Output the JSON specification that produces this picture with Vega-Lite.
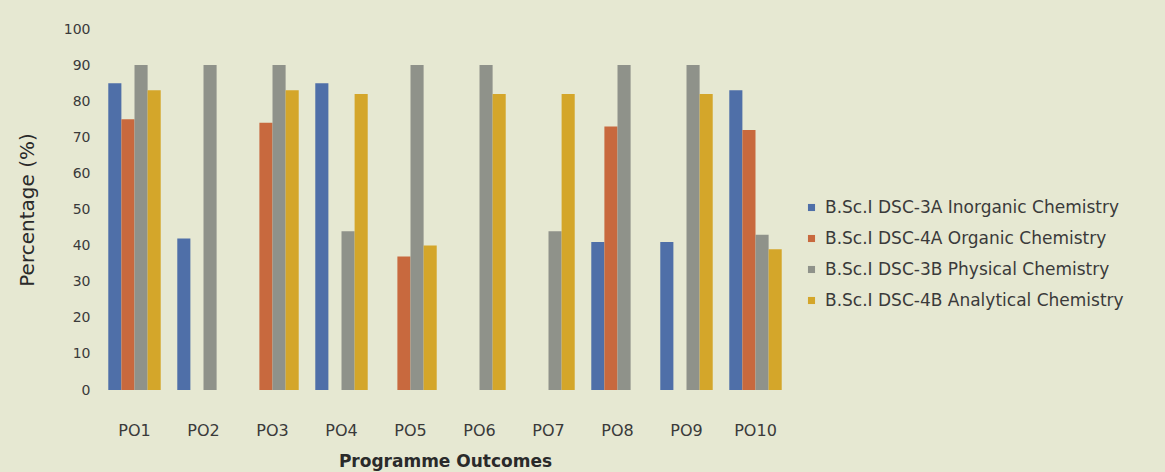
{
  "$schema": "https://vega.github.io/schema/vega-lite/v6.json",
  "width": 690,
  "height": 361,
  "autosize": {"type": "none"},
  "padding": {"left": 100, "top": 29, "right": 375, "bottom": 82},
  "background": "#e6e8d2",
  "config": {
    "font": "DejaVu Sans",
    "view": {"stroke": null},
    "axis": {"grid": false, "ticks": false, "domain": false, "labelColor": "#3a3a3a", "titleColor": "#2a2a2a", "labelFont": "DejaVu Sans", "titleFont": "DejaVu Sans"},
    "legend": {"labelFont": "DejaVu Sans"}
  },
  "data": {
    "values": [
      {"po": "PO1", "course": "B.Sc.I DSC-3A Inorganic Chemistry", "pct": 85},
      {"po": "PO1", "course": "B.Sc.I DSC-4A Organic Chemistry", "pct": 75},
      {"po": "PO1", "course": "B.Sc.I DSC-3B Physical Chemistry", "pct": 90},
      {"po": "PO1", "course": "B.Sc.I DSC-4B Analytical Chemistry", "pct": 83},
      {"po": "PO2", "course": "B.Sc.I DSC-3A Inorganic Chemistry", "pct": 42},
      {"po": "PO2", "course": "B.Sc.I DSC-3B Physical Chemistry", "pct": 90},
      {"po": "PO3", "course": "B.Sc.I DSC-4A Organic Chemistry", "pct": 74},
      {"po": "PO3", "course": "B.Sc.I DSC-3B Physical Chemistry", "pct": 90},
      {"po": "PO3", "course": "B.Sc.I DSC-4B Analytical Chemistry", "pct": 83},
      {"po": "PO4", "course": "B.Sc.I DSC-3A Inorganic Chemistry", "pct": 85},
      {"po": "PO4", "course": "B.Sc.I DSC-3B Physical Chemistry", "pct": 44},
      {"po": "PO4", "course": "B.Sc.I DSC-4B Analytical Chemistry", "pct": 82},
      {"po": "PO5", "course": "B.Sc.I DSC-4A Organic Chemistry", "pct": 37},
      {"po": "PO5", "course": "B.Sc.I DSC-3B Physical Chemistry", "pct": 90},
      {"po": "PO5", "course": "B.Sc.I DSC-4B Analytical Chemistry", "pct": 40},
      {"po": "PO6", "course": "B.Sc.I DSC-3B Physical Chemistry", "pct": 90},
      {"po": "PO6", "course": "B.Sc.I DSC-4B Analytical Chemistry", "pct": 82},
      {"po": "PO7", "course": "B.Sc.I DSC-3B Physical Chemistry", "pct": 44},
      {"po": "PO7", "course": "B.Sc.I DSC-4B Analytical Chemistry", "pct": 82},
      {"po": "PO8", "course": "B.Sc.I DSC-3A Inorganic Chemistry", "pct": 41},
      {"po": "PO8", "course": "B.Sc.I DSC-4A Organic Chemistry", "pct": 73},
      {"po": "PO8", "course": "B.Sc.I DSC-3B Physical Chemistry", "pct": 90},
      {"po": "PO9", "course": "B.Sc.I DSC-3A Inorganic Chemistry", "pct": 41},
      {"po": "PO9", "course": "B.Sc.I DSC-3B Physical Chemistry", "pct": 90},
      {"po": "PO9", "course": "B.Sc.I DSC-4B Analytical Chemistry", "pct": 82},
      {"po": "PO10", "course": "B.Sc.I DSC-3A Inorganic Chemistry", "pct": 83},
      {"po": "PO10", "course": "B.Sc.I DSC-4A Organic Chemistry", "pct": 72},
      {"po": "PO10", "course": "B.Sc.I DSC-3B Physical Chemistry", "pct": 43},
      {"po": "PO10", "course": "B.Sc.I DSC-4B Analytical Chemistry", "pct": 39}
    ]
  },
  "mark": {"type": "bar"},
  "encoding": {
    "x": {
      "field": "po",
      "type": "nominal",
      "sort": ["PO1", "PO2", "PO3", "PO4", "PO5", "PO6", "PO7", "PO8", "PO9", "PO10"],
      "scale": {"paddingInner": 0.24, "paddingOuter": 0.12},
      "axis": {"title": "Programme Outcomes", "labelAngle": 0, "labelPadding": 32, "labelFontSize": 16, "titleFontSize": 17, "titleFontWeight": "bold", "titlePadding": 15}
    },
    "xOffset": {
      "field": "course",
      "type": "nominal",
      "sort": ["B.Sc.I DSC-3A Inorganic Chemistry", "B.Sc.I DSC-4A Organic Chemistry", "B.Sc.I DSC-3B Physical Chemistry", "B.Sc.I DSC-4B Analytical Chemistry"]
    },
    "y": {
      "field": "pct",
      "type": "quantitative",
      "scale": {"domain": [0, 100]},
      "axis": {"title": "Percentage (%)", "values": [0, 10, 20, 30, 40, 50, 60, 70, 80, 90, 100], "labelPadding": 10, "labelFontSize": 14, "titleFontSize": 20, "titleFontWeight": "normal", "titlePadding": 26}
    },
    "color": {
      "field": "course",
      "type": "nominal",
      "sort": ["B.Sc.I DSC-3A Inorganic Chemistry", "B.Sc.I DSC-4A Organic Chemistry", "B.Sc.I DSC-3B Physical Chemistry", "B.Sc.I DSC-4B Analytical Chemistry"],
      "scale": {"range": ["#4f6fa8", "#c8693e", "#8f928a", "#d4a62a"]},
      "legend": {
        "title": null,
        "orient": "none",
        "legendX": 703,
        "legendY": 170,
        "symbolType": "square",
        "symbolSize": 50,
        "symbolStrokeWidth": 0,
        "labelFontSize": 17,
        "labelColor": "#3a3a3a",
        "rowPadding": 13,
        "labelOffset": 5,
        "labelLimit": 400
      }
    }
  }
}
